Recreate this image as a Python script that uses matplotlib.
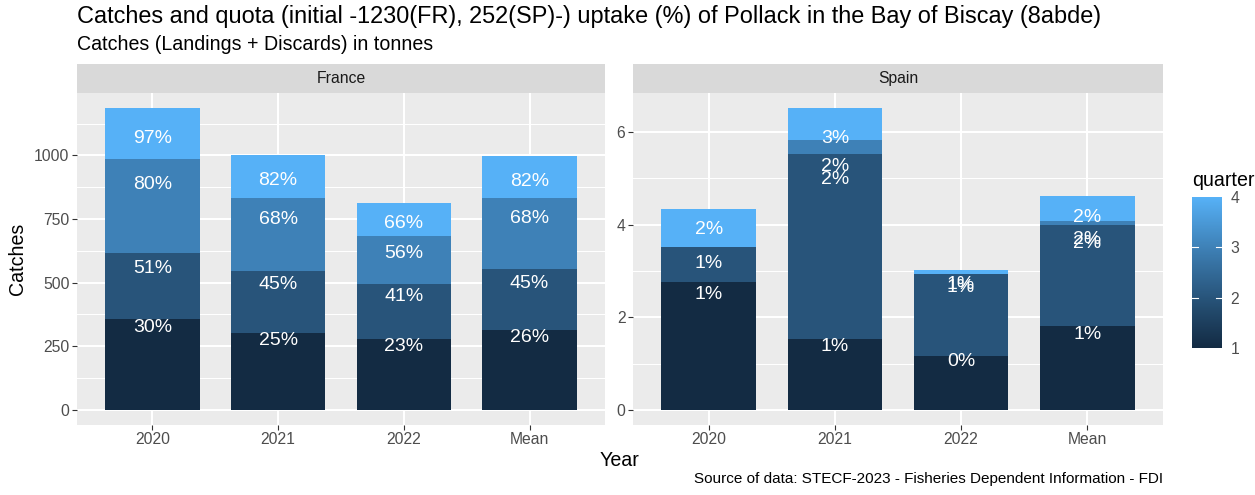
import numpy as np
import matplotlib
matplotlib.use("Agg")
import matplotlib.pyplot as plt
from matplotlib.colors import LinearSegmentedColormap, Normalize
from matplotlib.cm import ScalarMappable

plt.rcParams['font.family'] = ['Liberation Sans', 'DejaVu Sans']

# ---------------- data ----------------
years = ["2020", "2021", "2022", "Mean"]
quarters = [1, 2, 3, 4]

# France catches by quarter (tonnes)
fr_q1 = [359, 304, 278, 314]
fr_q2 = [259, 242, 218, 240]
fr_q3 = [368, 287, 187, 280]
fr_q4 = [200, 169, 130, 165]
fr_lab_q1 = ["30%", "25%", "23%", "26%"]
fr_lab_q2 = ["51%", "45%", "41%", "45%"]
fr_lab_q3 = ["80%", "68%", "56%", "68%"]
fr_lab_q4 = ["97%", "82%", "66%", "82%"]

# Spain catches by quarter (tonnes); nan = no record
sp_q1 = [2.77, 1.53, 1.17, 1.82]
sp_q2 = [0.74, 4.00, 1.76, 2.17]
sp_q3 = [np.nan, 0.31, np.nan, 0.10]
sp_q4 = [0.82, 0.68, 0.09, 0.53]
sp_lab_q1 = ["1%", "1%", "0%", "1%"]
sp_lab_q2 = ["1%", "2%", "1%", "2%"]
sp_lab_q3 = [None, "2%", None, "2%"]
sp_lab_q4 = ["2%", "3%", "1%", "2%"]

fr_ticks = [0, 250, 500, 750, 1000]
sp_ticks = [0, 2, 4, 6]

title = "Catches and quota (initial -1230(FR), 252(SP)-) uptake (%) of Pollack in the Bay of Biscay (8abde)"
subtitle = "Catches (Landings + Discards) in tonnes"
caption = "Source of data: STECF-2023 - Fisheries Dependent Information - FDI"

# ---------------- colour scale (ggplot default gradient, Lab interpolation) ----------------
def _hex2rgb(h):
    h = h.lstrip('#')
    return np.array([int(h[i:i + 2], 16) / 255 for i in (0, 2, 4)])

def _srgb2lin(c):
    return np.where(c <= 0.04045, c / 12.92, ((c + 0.055) / 1.055) ** 2.4)

def _lin2srgb(c):
    c = np.clip(c, 0, 1)
    return np.where(c <= 0.0031308, 12.92 * c, 1.055 * c ** (1 / 2.4) - 0.055)

_M = np.array([[0.4124564, 0.3575761, 0.1804375],
               [0.2126729, 0.7151522, 0.0721750],
               [0.0193339, 0.1191920, 0.9503041]])
_WP = np.array([0.95047, 1.0, 1.08883])

def _f(t):
    d = 6 / 29
    return np.where(t > d ** 3, np.cbrt(t), t / (3 * d * d) + 4 / 29)

def _finv(t):
    d = 6 / 29
    return np.where(t > d, t ** 3, 3 * d * d * (t - 4 / 29))

def rgb2lab(rgb):
    xyz = _M @ _srgb2lin(rgb) / _WP
    fx, fy, fz = _f(xyz)
    return np.array([116 * fy - 16, 500 * (fx - fy), 200 * (fy - fz)])

def lab2rgb(lab):
    L, a, b = lab
    fy = (L + 16) / 116
    fx = fy + a / 500
    fz = fy - b / 200
    xyz = _finv(np.array([fx, fy, fz])) * _WP
    return _lin2srgb(np.linalg.solve(_M, xyz))

lab_lo = rgb2lab(_hex2rgb("#132B43"))
lab_hi = rgb2lab(_hex2rgb("#56B1F7"))

def grad(t):
    return tuple(lab2rgb(lab_lo + (lab_hi - lab_lo) * t))

qcols = [grad((q - 1) / 3) for q in quarters]
cmap = LinearSegmentedColormap.from_list("gg", [grad(t) for t in np.linspace(0, 1, 64)])

# ---------------- figure ----------------
W, H = 1255, 495
fig = plt.figure(figsize=(W / 100, H / 100), dpi=100)
fig.patch.set_facecolor("white")

def px_axes(x0, x1, y0, y1):
    return fig.add_axes([x0 / W, 1 - y1 / H, (x1 - x0) / W, (y1 - y0) / H])

PT = 0.72  # points per pixel at dpi 100
BASE = 19.7   # base text size in px
SMALL = 15.8  # 0.8 * base
panel_top, panel_bot = 93, 425
strip_top = 64

def draw_panel(x0, x1, series, labels, ticks, minor, name):
    ax = px_axes(x0, x1, panel_top, panel_bot)
    ax.set_facecolor("#EBEBEB")
    for s in ax.spines.values():
        s.set_visible(False)
    xpos = np.arange(len(years))
    bottom = np.zeros(len(years))
    for qi, (vals, labs) in enumerate(zip(series, labels)):
        v = np.array(vals, dtype=float)
        present = ~np.isnan(v)
        vv = np.where(present, v, 0.0)
        ax.bar(xpos[present], vv[present], bottom=bottom[present], width=0.75,
               color=qcols[qi], linewidth=0, zorder=3)
        top = bottom + vv
        for i in range(len(years)):
            if present[i] and labs[i] is not None:
                ax.text(xpos[i], 0.9 * top[i], labs[i], color="white",
                        ha="center", va="center", fontsize=19.5 * PT, zorder=4)
        bottom = top
    ax.set_xlim(-0.6, len(years) - 0.4)
    ymax = bottom.max()
    ax.set_ylim(-0.05 * ymax, 1.05 * ymax)
    ax.set_yticks(ticks)
    ax.set_yticklabels([str(t) for t in ticks])
    ax.set_yticks(minor, minor=True)
    ax.set_xticks(xpos)
    ax.set_xticklabels(years)
    ax.grid(True, which="major", color="white", lw=1.5, zorder=0)
    ax.grid(True, which="minor", axis="y", color="white", lw=0.75, zorder=0)
    ax.set_axisbelow(True)
    ax.tick_params(which="major", length=3.4, width=0.8, color="#333333",
                   labelcolor="#4D4D4D", labelsize=SMALL * PT, pad=2)
    ax.tick_params(which="minor", length=0)
    # strip
    sax = px_axes(x0, x1, strip_top, panel_top)
    sax.set_facecolor("#D9D9D9")
    sax.set_xticks([]); sax.set_yticks([])
    for s in sax.spines.values():
        s.set_visible(False)
    sax.text(0.5, 0.5, name, ha="center", va="center", color="#1A1A1A",
             fontsize=SMALL * PT, transform=sax.transAxes)
    return ax

fr_series = [fr_q1, fr_q2, fr_q3, fr_q4]
fr_labels = [fr_lab_q1, fr_lab_q2, fr_lab_q3, fr_lab_q4]
sp_series = [sp_q1, sp_q2, sp_q3, sp_q4]
sp_labels = [sp_lab_q1, sp_lab_q2, sp_lab_q3, sp_lab_q4]

axF = draw_panel(77, 605, fr_series, fr_labels, fr_ticks, [125, 375, 625, 875, 1125], "France")
axS = draw_panel(633, 1163, sp_series, sp_labels, sp_ticks, [1, 3, 5], "Spain")

# titles and axis titles
fig.text(77 / W, 1 - 23 / H, title, fontsize=23.5 * PT, color="black", ha="left", va="baseline")
fig.text(77 / W, 1 - 50 / H, subtitle, fontsize=BASE * PT, color="black", ha="left", va="baseline")
fig.text(620 / W, 1 - 461 / H, "Year", fontsize=BASE * PT, ha="center", va="center")
fig.text(18 / W, 1 - 259 / H, "Catches", fontsize=BASE * PT, ha="center", va="center", rotation=90)
fig.text(1163 / W, 1 - 479 / H, caption, fontsize=15.2 * PT, ha="right", va="center")

# legend colourbar
cax = px_axes(1192, 1222, 197, 348)
sm = ScalarMappable(norm=Normalize(1, 4), cmap=cmap)
cb = fig.colorbar(sm, cax=cax, ticks=quarters)
cb.outline.set_visible(False)
cb.ax.tick_params(length=0, labelsize=SMALL * PT, labelcolor="#4D4D4D", pad=6)
for q in quarters[1:-1]:
    cax.plot([0, 0.2], [q, q], color="white", lw=0.8, transform=cax.get_yaxis_transform())
    cax.plot([0.8, 1.0], [q, q], color="white", lw=0.8, transform=cax.get_yaxis_transform())
fig.text(1192 / W, 1 - 181 / H, "quarter", fontsize=BASE * PT, ha="left", va="center")

fig.savefig("out.png", dpi=100)
